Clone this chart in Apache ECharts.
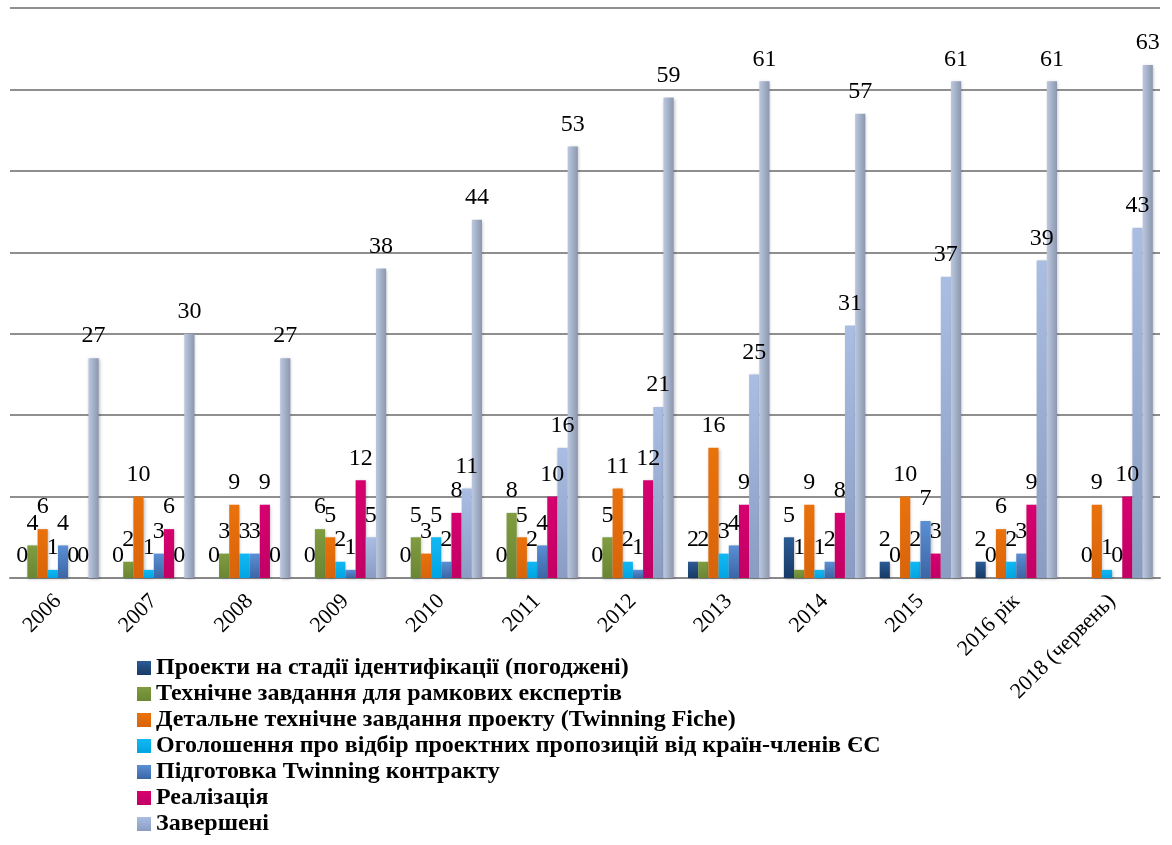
<!DOCTYPE html>
<html lang="uk">
<head>
<meta charset="UTF-8" />
<title>Twinning проекти</title>
<script src="https://cdn.jsdelivr.net/npm/echarts@6/dist/echarts.min.js"></script>
<style>
  html, body { margin: 0; padding: 0; background: #fff; }
  #main { width: 1172px; height: 845px; }
</style>
</head>
<body>
<div id="main"></div>
<script>
// категорії та дані
const years = ['2006', '2007', '2008', '2009', '2010', '2011', '2012', '2013', '2014', '2015', '2016 рік', '2018 (червень)'];
const identified = [0, 0, 0, 0, 0, 0, 0, 2, 5, 2, 2, null];
const frameworkTor = [4, 2, 3, 6, 5, 8, 5, 2, 1, 0, 0, 0];
const twinningFiche = [6, 10, 9, 5, 3, 5, 11, 16, 9, 10, 6, 9];
const announcement = [1, 1, 3, 2, 5, 2, 2, 3, 1, 2, 2, 1];
const contractPrep = [4, 3, 3, 1, 2, 4, 1, 4, 2, 7, 3, 0];
const implementation = [0, 6, 9, 12, 8, 10, 12, 9, 8, 3, 9, 10];
const completed = [0, 0, 0, 5, 11, 16, 21, 25, 31, 37, 39, 43];
const completedTotal = [27, 30, 27, 38, 44, 53, 59, 61, 57, 61, 61, 63];

const names = [
  'Проекти на стадії ідентифікації (погоджені)',
  'Технічне завдання для рамкових експертів',
  'Детальне технічне завдання проекту (Twinning Fiche)',
  'Оголошення про відбір проектних пропозицій від країн-членів ЄС',
  'Підготовка Twinning контракту',
  'Реалізація',
  'Завершені'
];

function vgrad(top, bottom) {
  return new echarts.graphic.LinearGradient(0, 0, 0, 1, [
    { offset: 0, color: top }, { offset: 1, color: bottom }
  ]);
}
function hgrad(left, right) {
  return new echarts.graphic.LinearGradient(0, 0, 1, 0, [
    { offset: 0, color: left }, { offset: 1, color: right }
  ]);
}

const serif = 'Liberation Serif';

function bar(name, data, color) {
  return {
    name: name,
    type: 'bar',
    data: data,
    barGap: '0%',
    barCategoryGap: '15%',
    itemStyle: {
      color: color,
      shadowColor: 'rgba(0,0,0,0.25)',
      shadowBlur: 3,
      shadowOffsetX: 1,
      shadowOffsetY: 1
    },
    label: {
      show: true,
      position: 'top',
      distance: 10,
      fontFamily: serif,
      fontSize: 24,
      color: '#000'
    },
    animation: false
  };
}

const myChart = echarts.init(document.getElementById('main'));
myChart.setOption({
  backgroundColor: '#fff',
  grid: { left: 10, right: 12, top: 8, bottom: 267 },
  legend: {
    data: names,
    orient: 'vertical',
    left: 137,
    top: 656,
    padding: 0,
    itemWidth: 14,
    itemHeight: 14,
    itemGap: 2,
    icon: 'rect',
    textStyle: {
      fontFamily: serif,
      fontWeight: 'bold',
      fontSize: 24,
      lineHeight: 24,
      color: '#000'
    }
  },
  xAxis: {
    type: 'category',
    data: years,
    axisLine: { lineStyle: { color: '#888', width: 2 } },
    axisTick: { length: 6, lineStyle: { color: '#888', width: 2 } },
    axisLabel: {
      rotate: 45,
      margin: 20,
      fontFamily: serif,
      fontSize: 22,
      color: '#000'
    }
  },
  yAxis: {
    type: 'value',
    min: 0,
    max: 70,
    interval: 10,
    axisLabel: { show: false },
    axisLine: { show: false },
    axisTick: { show: false },
    splitLine: { lineStyle: { color: '#8f8f8f', width: 2 } }
  },
  series: [
    bar(names[0], identified, vgrad('#2c5b94', '#183a66')),
    bar(names[1], frameworkTor, vgrad('#7f9c40', '#6a8634')),
    bar(names[2], twinningFiche, vgrad('#ea720c', '#d8640a')),
    bar(names[3], announcement, vgrad('#12b8f4', '#00a4e2')),
    bar(names[4], contractPrep, vgrad('#5b8fd4', '#3b66a6')),
    bar(names[5], implementation, vgrad('#d6006f', '#c20064')),
    bar(names[6], completed, vgrad('#aabde2', '#8a9cc2')),
    bar('Усього завершені', completedTotal, hgrad('#bcc8e0', '#8b97ae'))
  ]
});
</script>
</body>
</html>
